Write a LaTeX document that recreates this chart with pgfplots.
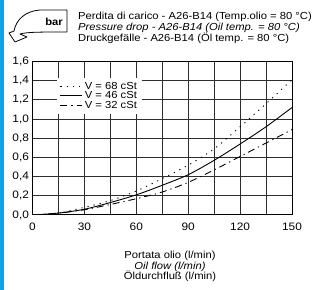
\documentclass[border=0pt]{standalone}
\usepackage{pgfplots}
\pgfplotsset{compat=1.18}
\usepackage{fontspec}
\setmainfont[FakeStretch=1.1]{Liberation Sans}
\definecolor{sidebar}{RGB}{20,160,228}
\definecolor{gridc}{RGB}{45,45,45}
\newcommand{\fs}{\fontsize{10.2bp}{11bp}\selectfont}
\begin{document}
\begin{tikzpicture}[x=1bp,y=1bp]
\path[use as bounding box] (0,0) rectangle (318,290);
\fill[sidebar] (0,0) rectangle (4,290);
% bar symbol
\draw[line width=0.8bp,line join=round] (67,258) -- (67,280) -- (40,280)
  .. controls (25,279) and (16,270) .. (14,259) -- (9,257) -- (15,248) -- (27,253) -- (20,256)
  .. controls (27,258) and (40,258) .. (67,258);
\node[font=\fs\bfseries] at (54,268) {bar};
% titles
\node[anchor=base west,inner sep=0,font=\fs] at (78,271) {Perdita di carico - A26-B14 (Temp.olio = 80 °C)};
\node[anchor=base west,inner sep=0,font=\fs\itshape] at (78,260) {Pressure drop - A26-B14 (Oil temp. = 80 °C)};
\node[anchor=base west,inner sep=0,font=\fs] at (78,248.5) {Druckgefälle - A26-B14 (Öl temp. = 80 °C)};
% x label
\node[anchor=base,inner sep=0,font=\fs] at (170,32) {Portata olio (l/min)};
\node[anchor=base,inner sep=0,font=\fs\itshape] at (170,21) {Oil flow (l/min)};
\node[anchor=base,inner sep=0,font=\fs] at (170,10.5) {Öldurchfluß (l/min)};
\begin{axis}[
  at={(32.5bp,75bp)}, anchor=south west,
  scale only axis, width=259.5bp, height=153.5bp,
  xmin=0, xmax=150, ymin=0, ymax=1.6,
  xtick={0,30,...,150}, minor xtick={15,45,...,135},
  ytick={0,0.2,...,1.6},
  grid=both,
  major grid style={gridc,line width=1bp},
  minor grid style={gridc,line width=1bp},
  major tick length=0pt, minor tick length=0pt,
  axis line style={black,line width=1bp},
  tick label style={font=\fontsize{10.8bp}{12bp}\selectfont},
  /pgf/number format/assume math mode=true,
  yticklabel style={/pgf/number format/.cd,fixed,fixed zerofill,precision=1,use comma},
  xticklabel style={yshift=-4.5bp},
  legend style={at={(axis cs:14,1.43)}, anchor=north west, draw=none, fill=white,
    font=\fs, inner xsep=3bp, inner ysep=2bp, row sep=-3bp,
    cells={anchor=west}},
  legend image code/.code={\draw[#1] (0bp,0bp) -- (22bp,0bp);},
  every axis plot/.append style={black, line width=0.9bp, smooth},
]
\addplot[dash pattern=on 1.2bp off 5bp] coordinates {(0,0)(15,0.02)(30,0.08)(45,0.15)(60,0.25)(75,0.38)(90,0.52)(105,0.69)(120,0.92)(135,1.16)(150,1.41)};
\addlegendentry{V = 68 cSt}
\addplot[solid] coordinates {(0,0)(15,0.02)(30,0.06)(45,0.13)(60,0.21)(75,0.31)(90,0.42)(105,0.57)(120,0.74)(135,0.92)(150,1.12)};
\addlegendentry{V = 46 cSt}
\addplot[dash pattern=on 7bp off 4bp on 1.2bp off 4bp] coordinates {(0,0)(15,0.02)(30,0.055)(45,0.11)(60,0.17)(75,0.24)(90,0.34)(105,0.47)(120,0.61)(135,0.75)(150,0.89)};
\addlegendentry{V = 32 cSt}
\end{axis}
\end{tikzpicture}
\end{document}
